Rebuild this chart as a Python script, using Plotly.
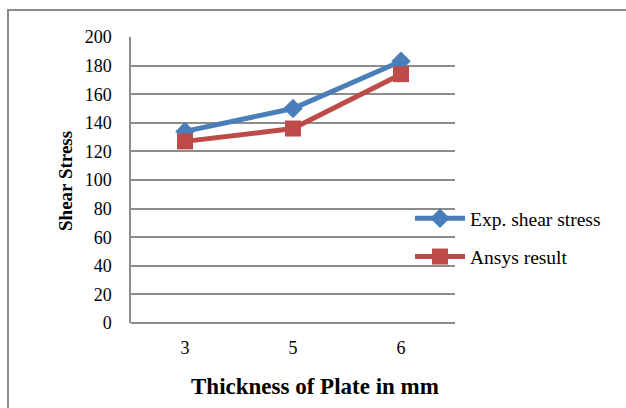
import plotly.graph_objects as go

categories = ["3", "5", "6"]
exp_shear = [134, 150, 183]
ansys = [127, 136, 174]
y_ticks = [0, 20, 40, 60, 80, 100, 120, 140, 160, 180, 200]

FONT = "Liberation Serif"
L, R, T, B = 131, 171, 37, 85
W, H = 626, 408
pw, ph = W - L - R, H - T - B

fig = go.Figure()
fig.add_trace(go.Scatter(
    x=categories, y=exp_shear, name="Exp. shear stress", mode="lines+markers",
    line=dict(color="#4A7EBB", width=5),
    marker=dict(symbol="diamond", size=15, color="#4A7EBB"),
    legendgroup="a"))
fig.add_trace(go.Scatter(
    x=categories, y=ansys, name="Ansys result", mode="lines+markers",
    line=dict(color="#BE4B48", width=5),
    marker=dict(symbol="square", size=16, color="#BE4B48"),
    legendgroup="b"))

def px_x(p):
    return (p - L) / pw

def px_y(p):
    return (H - B - p) / ph

fig.update_layout(
    width=W, height=H,
    margin=dict(l=L, r=R, t=T, b=B),
    paper_bgcolor="white", plot_bgcolor="white",
    font=dict(family=FONT, size=17, color="black"),
    showlegend=True,
    legend=dict(x=px_x(410), y=px_y(199), xanchor="left", yanchor="top",
                font=dict(size=19.5, family=FONT), traceorder="grouped",
                tracegroupgap=10, itemwidth=50, bgcolor="rgba(0,0,0,0)"),
    xaxis=dict(type="category", range=[-0.5, 2.5], showgrid=False, showline=False, ticks="",
               ticklabelstandoff=12, tickfont=dict(size=18, family=FONT)),
    yaxis=dict(range=[0, 200], tickvals=y_ticks, showgrid=True, gridcolor="#8C8C8C", gridwidth=1.5,
               showline=True, linecolor="#8C8C8C", linewidth=1.5, ticks="", zeroline=True,
               zerolinecolor="#8C8C8C", zerolinewidth=1.5, ticklabelstandoff=14,
               tickfont=dict(size=18, family=FONT)),
    annotations=[
        dict(text="<b>Thickness of Plate in mm</b>", xref="paper", yref="paper",
             x=px_x(315), y=px_y(386), xanchor="center", yanchor="middle", showarrow=False,
             font=dict(size=23, family=FONT)),
        dict(text="<b>Shear Stress</b>", xref="paper", yref="paper", textangle=-90,
             x=px_x(65), y=px_y(181), xanchor="center", yanchor="middle", showarrow=False,
             font=dict(size=19, family=FONT)),
    ],
    shapes=[dict(type="rect", xref="paper", yref="paper",
                 x0=px_x(8), x1=px_x(700), y0=px_y(10), y1=px_y(500),
                 line=dict(color="#8C8C8C", width=2), fillcolor="rgba(0,0,0,0)", layer="below")],
)

fig.write_html("out.html")
